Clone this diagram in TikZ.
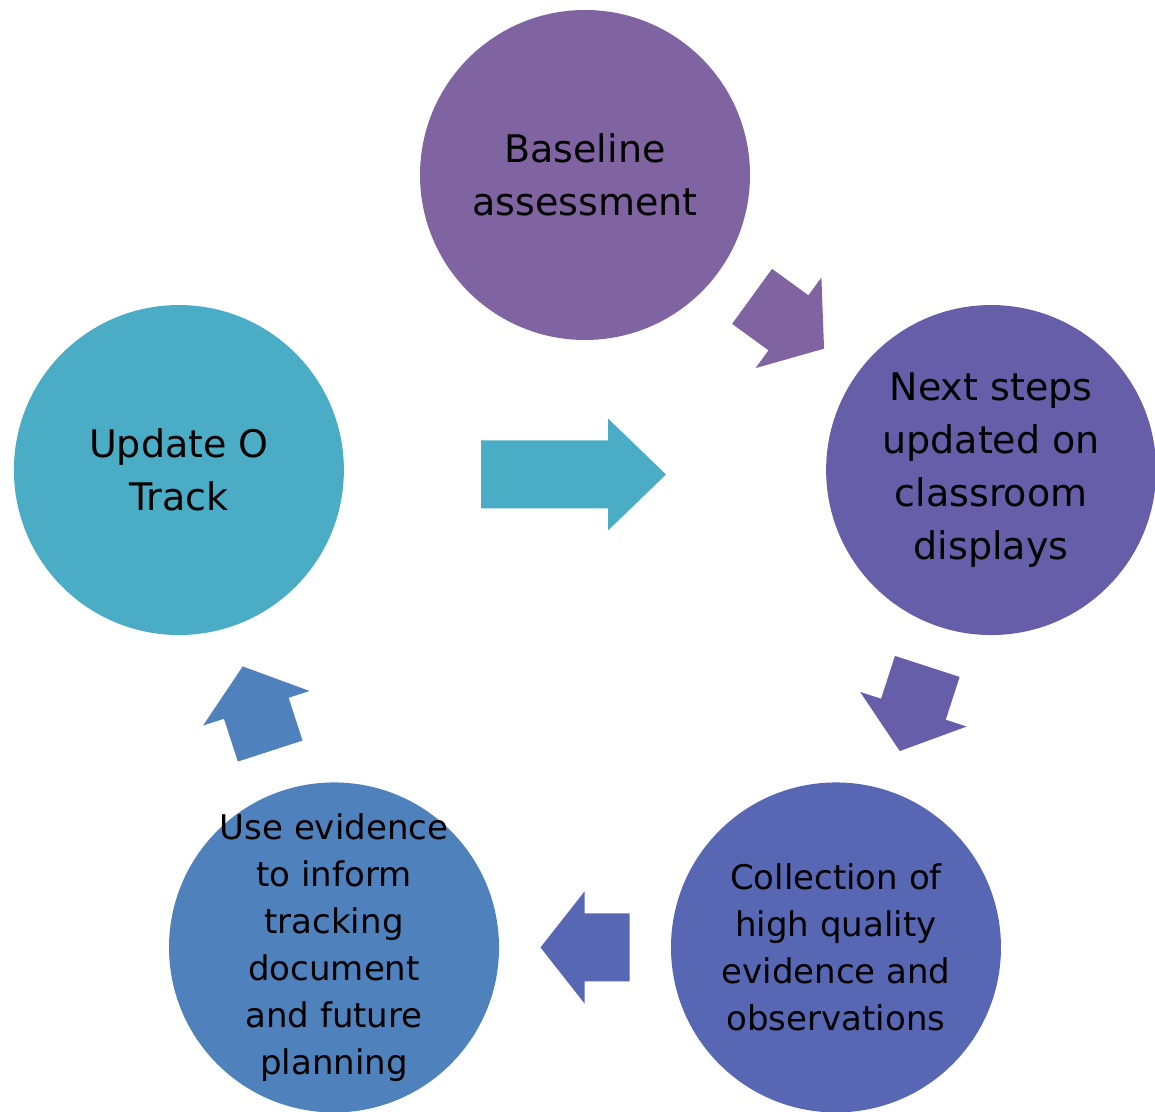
\documentclass[tikz,border=0pt]{standalone}
\usepackage{fontspec}
\setmainfont{DejaVu Sans}
\usetikzlibrary{calc}
\definecolor{stageA}{HTML}{8064A2}
\definecolor{stageB}{HTML}{675EA9}
\definecolor{stageC}{HTML}{5767B4}
\definecolor{stageD}{HTML}{4F81BD}
\definecolor{stageE}{HTML}{4BACC6}
\tikzstyle{stage}=[circle, minimum size=330pt, inner sep=0pt]
\tikzstyle{bigtext}=[font=\fontsize{38}{53}\selectfont, align=center, text=black]
\tikzstyle{smalltext}=[font=\fontsize{34}{47}\selectfont, align=center, text=black]
\pgfmathsetmacro{\ringradius}{427}
\newcommand{\drawblockarrow}[5]{
% #1 centre, #2 angle, #3 length, #4 head length, #5 colour
\pgfmathsetmacro{\halflen}{#3/2}
\pgfmathsetmacro{\neck}{#3/2-#4}
\begin{scope}[shift={#1},rotate=#2]
\fill[#5] (-\halflen,-34) -- (\neck,-34) -- (\neck,-56) -- (\halflen,0)
  -- (\neck,56) -- (\neck,34) -- (-\halflen,34) -- cycle;
\end{scope}
}

\begin{document}
\begin{tikzpicture}[x=1pt,y=1pt]
  \useasboundingbox (0,0) rectangle (1155,1111);
  \coordinate (ctr) at (585,509);
  % the five stages round the ring
  \node[stage, fill=stageA, label={[bigtext]center:{Baseline\\assessment}}] (stage0) at ($(ctr)+(90:\ringradius)$) {};
  \node[stage, fill=stageB, label={[bigtext]center:{Next steps\\updated on\\classroom\\displays}}] (stage1) at ($(ctr)+(18:\ringradius)$) {};
  \node[stage, fill=stageC, label={[smalltext]center:{Collection of\\high quality\\evidence and\\observations}}] (stage2) at ($(ctr)+(-54:\ringradius)$) {};
  \node[stage, fill=stageD, label={[smalltext]center:{Use evidence\\to inform\\tracking\\document\\and future\\planning}}] (stage3) at ($(ctr)+(-126:\ringradius)$) {};
  \node[stage, fill=stageE, label={[bigtext]center:{Update O\\Track}}] (stage4) at ($(ctr)+(162:\ringradius)$) {};
  \foreach \i/\col in {0/stageA,1/stageB,2/stageC,3/stageD} {
    \pgfmathtruncatemacro{\j}{\i+1}
    \drawblockarrow{($(stage\i)!0.5!(stage\j)$)}{-36-72*\i}{89}{44}{\col}
  }
  \drawblockarrow{(573.5,636.5)}{0}{185}{58}{stageE} %last one sits off the ring
\end{tikzpicture}
\end{document}
